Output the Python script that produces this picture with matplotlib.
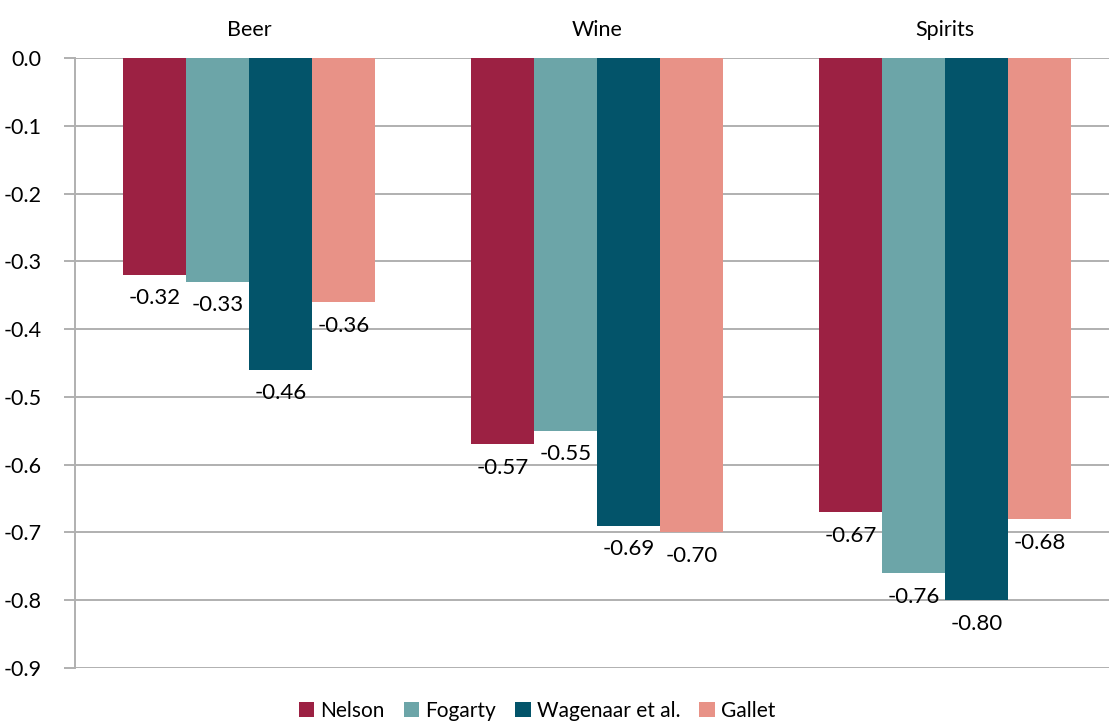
import matplotlib
matplotlib.use("Agg")
import matplotlib.pyplot as plt
import numpy as np

plt.rcParams["font.family"] = ["Lato", "DejaVu Sans"]

categories = ["Beer", "Wine", "Spirits"]
studies = ["Nelson", "Fogarty", "Wagenaar et al.", "Gallet"]
nelson = [-0.32, -0.57, -0.67]
fogarty = [-0.33, -0.55, -0.76]
wagenaar = [-0.46, -0.69, -0.80]
gallet = [-0.36, -0.70, -0.68]
series = [nelson, fogarty, wagenaar, gallet]
yticks = [-0.9, -0.8, -0.7, -0.6, -0.5, -0.4, -0.3, -0.2, -0.1, 0.0]
colors = ["#9c2143", "#6ca5a8", "#03546a", "#e89287"]

_W, _H, _DPI = 11.09, 7.22, 100
fig = plt.figure(figsize=(_W, _H), dpi=_DPI)
ax = fig.add_axes([75 / 1109, 54 / 722, 1044 / 1109, 610 / 722])

x = np.arange(len(categories))
bw = 63 / 348
for i, (vals, col, name) in enumerate(zip(series, colors, studies)):
    xs = x + (i - 1.5) * bw
    bars = ax.bar(xs, vals, width=bw, color=col, label=name, zorder=3)
    for b, v in zip(bars, vals):
        ax.annotate(f"{v:.2f}", (b.get_x() + b.get_width() / 2, v),
                    xytext=(0, -17), textcoords="offset points",
                    ha="center", va="center", fontsize=16, color="black", zorder=4)

ax.set_xlim(-0.5, 2.5)
ax.set_ylim(-0.9, 0.0)
ax.set_yticks(yticks)
ax.set_yticklabels([f"{t:.1f}" for t in yticks])
ax.yaxis.grid(True, color="#b0b0b0", linewidth=1.4, zorder=0)
ax.tick_params(axis="y", length=8, color="#b0b0b0", width=1.4, labelsize=15.5, pad=16)

ax.xaxis.tick_top()
ax.set_xticks(x)
ax.set_xticklabels(categories)
ax.tick_params(axis="x", length=0, labelsize=15.5, pad=13)

for s in ["top", "right", "bottom"]:
    ax.spines[s].set_visible(False)
ax.spines["left"].set_color("#b0b0b0")
ax.spines["left"].set_linewidth(1.4)

fig.legend(loc="center", bbox_to_anchor=(537 / 1109, 11 / 722), ncol=4, frameon=False,
           fontsize=15, handlelength=0.75, handleheight=0.75, handletextpad=0.3,
           columnspacing=0.9)

fig.savefig("out.png", dpi=_DPI)
